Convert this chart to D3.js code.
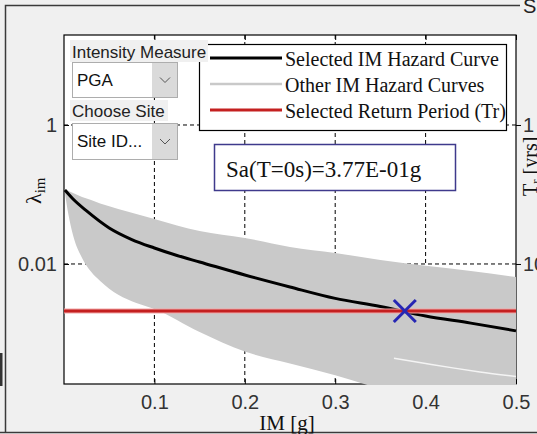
<!DOCTYPE html>
<html>
<head>
<meta charset="utf-8">
<script src="https://cdn.jsdelivr.net/npm/d3@7"></script>
<style>
  body { margin: 0; background: #f0f0f0; overflow: hidden; }
  svg { display: block; }
</style>
</head>
<body>
<svg id="chart" width="537" height="434"></svg>
<script>
'use strict'

// ------ data ------
const selectedIM = [0.001, 0.01, 0.025, 0.05, 0.075, 0.1, 0.125, 0.15, 0.2, 0.25, 0.3, 0.35, 0.4, 0.45, 0.5]
const selectedRate = [0.116, 0.0861, 0.058, 0.033, 0.0225, 0.0170, 0.01325, 0.01069, 0.00695, 0.00467, 0.0032, 0.00245, 0.00178, 0.00141, 0.00109]

// envelope of the other IM hazard curves
const bandIM = [0.001, 0.005, 0.01, 0.02, 0.03, 0.04, 0.06, 0.08, 0.1, 0.15, 0.2, 0.25, 0.3, 0.35, 0.4, 0.45, 0.5]
const bandUpper = [0.12, 0.112, 0.105, 0.092, 0.083, 0.074, 0.0618, 0.0524, 0.0444, 0.0298, 0.0237, 0.0176, 0.0144, 0.0114, 0.0094, 0.0079, 0.0065]
const bandLower = [0.105, 0.0507, 0.026, 0.0122, 0.0077, 0.0057, 0.0036, 0.00275, 0.00225, 0.00105, 0.00055, 0.00037, 0.00025, 0.00016, 0.00011, 0.000085, 0.00007]

// thin gap between two of the other curves (bottom right)
const gapIM = [0.365, 0.4, 0.43, 0.46, 0.5]
const gapRate = [0.00044, 0.00037, 0.00032, 0.00028, 0.00024]

const returnPeriod = 475
const imAtReturnPeriod = 0.377

const xTicks = [0.1, 0.2, 0.3, 0.4, 0.5]
const xTickLabels = ['0.1', '0.2', '0.3', '0.4', '0.5']
const xGrid = [0.1, 0.2, 0.3, 0.4]
const yTicks = [1, 0.01]
const yTickLabels = ['1', '0.01']
const trTickLabels = ['1', '100']
const legendLabels = ['Selected IM Hazard Curve', 'Other IM Hazard Curves', 'Selected Return Period (Tr)']

const SANS = 'Liberation Sans, Arial, sans-serif'
const SERIF = 'Liberation Serif, Times New Roman, serif'

// ------ scales ------
const pLeft = 64
const pRight = 516
const pTop = 35
const pBottom = 384

const x = d3.scaleLinear().domain([0, 0.5]).range([pLeft, pRight])
const y = d3.scaleLog().domain([Math.pow(10, -3.727), Math.pow(10, 1.295)]).range([pBottom, pTop])

const svg = d3.select('#chart')

// ------ figure frame ------
svg.append('rect').attr('x', 0).attr('y', 353).attr('width', 2.5).attr('height', 33).attr('fill', '#333')
svg.append('path')
  .attr('d', 'M520,5.5 H5.5 V432.5 M0,432.5 H537')
  .attr('fill', 'none').attr('stroke', '#3a3a3a').attr('stroke-width', 1.5)
svg.append('text').attr('x', 523).attr('y', 13)
  .attr('font-family', SANS).attr('font-size', 20).attr('fill', '#222').text('S')

// ------ plot area ------
svg.append('rect')
  .attr('x', pLeft).attr('y', pTop).attr('width', pRight - pLeft).attr('height', pBottom - pTop)
  .attr('fill', '#fff')

svg.append('defs').append('clipPath').attr('id', 'clip')
  .append('rect').attr('x', pLeft - 1).attr('y', pTop - 1)
  .attr('width', pRight - pLeft + 2).attr('height', pBottom - pTop + 2)

// grid
const grid = svg.append('g').attr('stroke', '#000').attr('stroke-width', 1).attr('stroke-dasharray', '4,3')
grid.selectAll('line.gx').data(xGrid).join('line')
  .attr('class', 'gx')
  .attr('x1', d => x(d)).attr('x2', d => x(d)).attr('y1', pTop).attr('y2', pBottom)
grid.selectAll('line.gy').data(yTicks).join('line')
  .attr('class', 'gy')
  .attr('y1', d => y(d)).attr('y2', d => y(d)).attr('x1', pLeft).attr('x2', pRight)

// box
svg.append('rect')
  .attr('x', pLeft).attr('y', pTop).attr('width', pRight - pLeft).attr('height', pBottom - pTop)
  .attr('fill', 'none').attr('stroke', '#000').attr('stroke-width', 1.2)

// axes
const xAxis = svg.append('g').attr('transform', `translate(0,${pBottom})`)
  .call(d3.axisBottom(x).tickValues(xTicks).tickFormat((d, i) => xTickLabels[i]).tickSize(-5).tickSizeOuter(0))
xAxis.select('.domain').remove()
xAxis.selectAll('text').attr('y', 25).attr('dy', null)
  .attr('font-family', SANS).attr('font-size', 20).attr('fill', '#333')

const topTicks = svg.append('g').attr('transform', `translate(0,${pTop})`)
  .call(d3.axisTop(x).tickValues(xTicks).tickFormat('').tickSize(-5).tickSizeOuter(0))
topTicks.select('.domain').remove()

const yAxis = svg.append('g').attr('transform', `translate(${pLeft},0)`)
  .call(d3.axisLeft(y).tickValues(yTicks).tickFormat((d, i) => yTickLabels[i]).tickSize(-5).tickPadding(7).tickSizeOuter(0))
yAxis.select('.domain').remove()
yAxis.selectAll('text').attr('x', -7).attr('dy', '0.34em')
  .attr('font-family', SANS).attr('font-size', 20).attr('fill', '#333')

const trAxis = svg.append('g').attr('transform', `translate(${pRight},0)`)
  .call(d3.axisRight(y).tickValues(yTicks).tickFormat((d, i) => trTickLabels[i]).tickSize(5).tickPadding(2).tickSizeOuter(0))
trAxis.select('.domain').remove()
trAxis.selectAll('text').attr('dy', '0.34em')
  .attr('font-family', SANS).attr('font-size', 20).attr('fill', '#333')

// ------ curves ------
const plot = svg.append('g').attr('clip-path', 'url(#clip)')

const band = d3.area()
  .x((d, i) => x(bandIM[i]))
  .y0((d, i) => y(bandLower[i]))
  .y1((d, i) => y(bandUpper[i]))
  .curve(d3.curveMonotoneX)
plot.append('path').datum(bandIM).attr('d', band).attr('fill', '#c9c9c9')

const line = d3.line()
  .x(d => x(d[0]))
  .y(d => y(d[1]))
  .curve(d3.curveMonotoneX)

plot.append('path').datum(gapIM.map((v, i) => [v, gapRate[i]]))
  .attr('d', line).attr('fill', 'none').attr('stroke', '#f4f4f4').attr('stroke-width', 1.5)

plot.append('path').datum(selectedIM.map((v, i) => [v, selectedRate[i]]))
  .attr('d', line).attr('fill', 'none').attr('stroke', '#000').attr('stroke-width', 3)

const yTr = y(1 / returnPeriod)
plot.append('line').attr('x1', pLeft).attr('x2', pRight).attr('y1', yTr).attr('y2', yTr)
  .attr('stroke', '#f2a8a8').attr('stroke-width', 5)
plot.append('line').attr('x1', pLeft).attr('x2', pRight).attr('y1', yTr).attr('y2', yTr)
  .attr('stroke', '#c42020').attr('stroke-width', 3)

const mx = x(imAtReturnPeriod)
const arm = 11
svg.append('path')
  .attr('d', `M${mx - arm},${yTr - arm}L${mx + arm},${yTr + arm}M${mx - arm},${yTr + arm}L${mx + arm},${yTr - arm}`)
  .attr('stroke', '#2626b4').attr('stroke-width', 3).attr('fill', 'none')

// ------ axis labels ------
svg.append('text').attr('x', 287).attr('y', 430).attr('text-anchor', 'middle')
  .attr('font-family', SERIF).attr('font-size', 21).attr('fill', '#111').text('IM [g]')

const yl = svg.append('text').attr('transform', 'translate(41,204) rotate(-90)')
  .attr('font-family', SERIF).attr('font-size', 22).attr('fill', '#111')
yl.append('tspan').text('λ')
yl.append('tspan').attr('font-size', 15).attr('dy', 4).text('im')

const rl = svg.append('text').attr('transform', 'translate(537,196) rotate(-90)')
  .attr('font-family', SERIF).attr('font-size', 20).attr('fill', '#111')
rl.append('tspan').text('T')
rl.append('tspan').attr('font-size', 13).attr('dy', 3).text('r')
rl.append('tspan').attr('dy', -3).text(' [yrs]')

// ------ legend ------
const legend = svg.append('g')
legend.append('rect').attr('x', 199.5).attr('y', 44.5).attr('width', 307).attr('height', 86)
  .attr('fill', '#fff').attr('stroke', '#000').attr('stroke-width', 1.2)
const legendStyles = [
  { color: '#000', width: 3 },
  { color: '#c9c9c9', width: 2.5 },
  { color: '#c42020', width: 3 }
]
legendLabels.forEach((label, i) => {
  const cy = 58 + i * 26
  legend.append('line').attr('x1', 210).attr('x2', 282).attr('y1', cy).attr('y2', cy)
    .attr('stroke', legendStyles[i].color).attr('stroke-width', legendStyles[i].width)
  legend.append('text').attr('x', 285).attr('y', cy + 8)
    .attr('font-family', SERIF).attr('font-size', 20).attr('fill', '#111').text(label)
})

// ------ info box ------
svg.append('rect').attr('x', 214.5).attr('y', 144.5).attr('width', 241).attr('height', 46)
  .attr('fill', '#fff').attr('stroke', '#3f3a8c').attr('stroke-width', 1.5)
const expo = Math.floor(Math.log10(imAtReturnPeriod))
const mant = (imAtReturnPeriod / Math.pow(10, expo)).toFixed(2)
const expoStr = (expo < 0 ? '-' : '+') + String(Math.abs(expo)).padStart(2, '0')
svg.append('text').attr('x', 226).attr('y', 177)
  .attr('font-family', SERIF).attr('font-size', 23).attr('fill', '#111')
  .text('Sa(T=0s)=' + mant + 'E' + expoStr + 'g')

// ------ UI controls ------
function uiLabel (lx, ly, w, h, text) {
  svg.append('rect').attr('x', lx).attr('y', ly).attr('width', w).attr('height', h).attr('fill', '#f0f0f0')
  svg.append('text').attr('x', lx + 2).attr('y', ly + h - 4)
    .attr('font-family', SANS).attr('font-size', 17).attr('fill', '#222').text(text)
}
function dropdown (dx, dy, w, h, text) {
  svg.append('rect').attr('x', dx + 0.5).attr('y', dy + 0.5).attr('width', w).attr('height', h)
    .attr('fill', '#fff').attr('stroke', '#adadad')
  svg.append('rect').attr('x', dx + w - 25).attr('y', dy + 1).attr('width', 25).attr('height', h - 1)
    .attr('fill', '#dadada')
  const cx = dx + w - 12
  const cy = dy + h / 2
  svg.append('path').attr('d', `M${cx - 5},${cy - 2}L${cx},${cy + 3}L${cx + 5},${cy - 2}`)
    .attr('fill', 'none').attr('stroke', '#555').attr('stroke-width', 1)
  svg.append('text').attr('x', dx + 5).attr('y', dy + h / 2 + 6)
    .attr('font-family', SANS).attr('font-size', 17).attr('fill', '#111').text(text)
}

uiLabel(70, 40, 138, 22, 'Intensity Measure')
dropdown(72, 62, 105, 35, 'PGA')
uiLabel(70, 100, 98, 21, 'Choose Site')
dropdown(72, 123, 105, 36, 'Site ID...')
</script>
</body>
</html>
